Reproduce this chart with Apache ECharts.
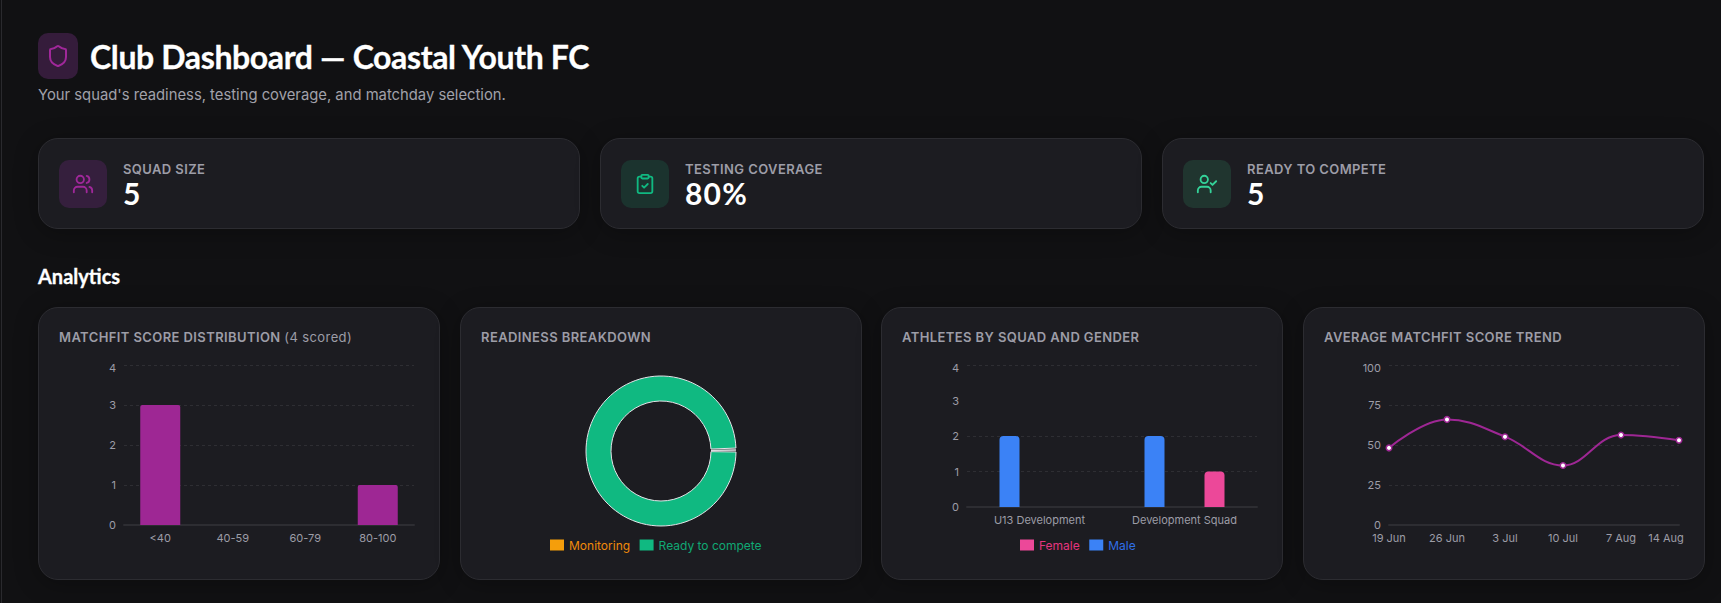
<!DOCTYPE html>
<html><head><meta charset="utf-8">
<script src="https://cdn.jsdelivr.net/npm/echarts@6/dist/echarts.min.js"></script>
<style>
html,body{margin:0;padding:0;background:#111113;width:1721px;height:603px;overflow:hidden;font-family:Inter,sans-serif}
.a{position:absolute;white-space:nowrap}
.rule{left:1px;top:0;width:1px;height:603px;background:#2a2a2e}
.head{font-family:Lato,sans-serif;font-weight:700;color:#fff;-webkit-text-stroke:.3px #fff}
.card{position:absolute;box-sizing:border-box;background:#1c1c21;border:1px solid #2c2c31;box-shadow:0 4px 24px rgba(0,0,0,.28)}
.stat{top:138px;height:91px;width:542px;border-radius:20px}
.chartcard{top:307px;height:273px;width:402px;border-radius:20px}
.ib{position:absolute;border-radius:10px;display:flex;align-items:center;justify-content:center}
.ctitle{font-size:13px;font-weight:600;letter-spacing:.4px;color:#9d9da7;line-height:16px}
.ctitle span{font-weight:400;letter-spacing:.4px}
.lab{font-size:13px;font-weight:600;letter-spacing:.4px;color:#9d9da7;line-height:14px}
.val{font-family:Lato,sans-serif;font-size:30px;font-weight:700;color:#fff;line-height:32px;letter-spacing:1.2px}
.chart{position:absolute;top:307px;height:273px;width:402px}
svg.i{fill:none;stroke-width:2;stroke-linecap:round;stroke-linejoin:round}
</style></head><body>
<div class="a rule"></div>

<div class="ib" style="left:38px;top:33px;width:40px;height:46px;background:#351c3b">
<svg class="i" width="24" height="24" viewBox="0 0 24 24" stroke="#a0289a"><path d="M20 13c0 5-3.5 7.5-7.66 8.95a1 1 0 0 1-.67-.01C7.5 20.5 4 18 4 13V6a1 1 0 0 1 1-1c2 0 4.5-1.2 6.24-2.72a1.17 1.17 0 0 1 1.52 0C14.51 3.81 17 5 19 5a1 1 0 0 1 1 1z"/></svg></div>
<div class="a head" style="left:90px;top:37px;font-size:32px;line-height:40px;letter-spacing:-.37px">Club Dashboard — Coastal Youth FC</div>
<div class="a" style="left:38px;top:86px;font-size:14.8px;line-height:18px;color:#a1a1aa">Your squad's readiness, testing coverage, and matchday selection.</div>

<div class="card stat" style="left:38px"></div>
<div class="card stat" style="left:600px"></div>
<div class="card stat" style="left:1162px"></div>
<div class="ib" style="left:59px;top:160px;width:48px;height:48px;background:#351f3d">
<svg class="i" width="22" height="22" viewBox="0 0 24 24" stroke="#a0289a"><path d="M16 21v-2a4 4 0 0 0-4-4H6a4 4 0 0 0-4 4v2"/><circle cx="9" cy="7" r="4"/><path d="M22 21v-2a4 4 0 0 0-3-3.87"/><path d="M16 3.13a4 4 0 0 1 0 7.75"/></svg></div>
<div class="ib" style="left:621px;top:160px;width:48px;height:48px;background:#1b332e">
<svg class="i" width="22" height="22" viewBox="0 0 24 24" stroke="#10b981"><rect x="8" y="2" width="8" height="4" rx="1"/><path d="M16 4h2a2 2 0 0 1 2 2v14a2 2 0 0 1-2 2H6a2 2 0 0 1-2-2V6a2 2 0 0 1 2-2h2"/><path d="m9 14 2 2 4-4"/></svg></div>
<div class="ib" style="left:1183px;top:160px;width:48px;height:48px;background:#20352f">
<svg class="i" width="22" height="22" viewBox="0 0 24 24" stroke="#34d399"><path d="M16 21v-2a4 4 0 0 0-4-4H6a4 4 0 0 0-4 4v2"/><circle cx="9" cy="7" r="4"/><path d="m16 11 2 2 4-4"/></svg></div>
<div class="a lab" style="left:123px;top:162px">SQUAD SIZE</div>
<div class="a val" style="left:123px;top:177px">5</div>
<div class="a lab" style="left:685px;top:162px">TESTING COVERAGE</div>
<div class="a val" style="left:685px;top:177px">80%</div>
<div class="a lab" style="left:1247px;top:162px">READY TO COMPETE</div>
<div class="a val" style="left:1247px;top:177px">5</div>

<div class="a head" style="left:38px;top:264px;font-size:20px;line-height:24px">Analytics</div>

<div class="card chartcard" style="left:38px"></div>
<div class="card chartcard" style="left:460px"></div>
<div class="card chartcard" style="left:881px"></div>
<div class="card chartcard" style="left:1303px"></div>
<div class="chart" id="c1" style="left:38px"></div>
<div class="chart" id="c2" style="left:460px"></div>
<div class="chart" id="c3" style="left:881px"></div>
<div class="chart" id="c4" style="left:1303px"></div>
<div class="a ctitle" style="left:59px;top:329px">MATCHFIT SCORE DISTRIBUTION <span>(4 scored)</span></div>
<div class="a ctitle" style="left:481px;top:329px">READINESS BREAKDOWN</div>
<div class="a ctitle" style="left:902px;top:329px">ATHLETES BY SQUAD AND GENDER</div>
<div class="a ctitle" style="left:1324px;top:329px">AVERAGE MATCHFIT SCORE TREND</div>

<script>
const scoreBands = ['<40', '40-59', '60-79', '80-100'];
const scoreCounts = [3, 0, 0, 1];
const readinessNames = ['Monitoring', 'Ready to compete'];
const readinessValues = [0, 5];
const squads = ['U13 Development', 'Development Squad'];
const maleCounts = [2, 2];
const femaleCounts = [0, 1];
const trendDates = ['19 Jun', '26 Jun', '3 Jul', '10 Jul', '7 Aug', '14 Aug'];
const trendScores = [48.2, 66, 55.2, 37.2, 56.3, 53];

const PURPLE = '#9e2794', GREEN = '#10b981', AMBER = '#f59e0b', BLUE = '#3b82f6', PINK = '#ec4899';
const TICK = '#9d9da7', GRID = '#2e2e33', AXIS = '#2d2d32', FONT = 'Inter';

function yAxis(max, interval, gridColor) {
  return {
    type: 'value', min: 0, max, interval,
    axisLine: {show: false}, axisTick: {show: false},
    splitLine: {show: true, showMinLine: false, lineStyle: {color: gridColor || GRID, type: [3, 3], width: 1}},
    axisLabel: {
      margin: 8, color: TICK, fontFamily: FONT, fontSize: 11,
      formatter: v => v === max ? '{top|' + v + '}' : String(v),
      rich: {top: {padding: [6, 0, 0, 0], color: TICK, fontFamily: FONT, fontSize: 11}}
    }
  };
}
function xAxis(data, extra) {
  return Object.assign({
    type: 'category', data,
    axisLine: {show: true, lineStyle: {color: AXIS, width: 2}}, axisTick: {show: false},
    axisLabel: {interval: 0, margin: 7, color: TICK, fontFamily: FONT, fontSize: 11}
  }, extra || {});
}
function legend(left, names, colors) {
  return {
    left, top: 232, itemWidth: 14, itemHeight: 11, itemGap: 9.5, icon: 'rect',
    data: names.map((name, i) => ({name, textStyle: {color: colors[i]}})),
    selectedMode: false, padding: 0,
    itemStyle: {borderWidth: 0},
    textStyle: {fontFamily: FONT, fontSize: 12}
  };
}
const opts = {renderer: 'svg'};

echarts.init(document.getElementById('c1'), null, opts).setOption({
  animation: false,
  grid: {left: 86, top: 58, width: 290, height: 160},
  xAxis: xAxis(scoreBands), yAxis: yAxis(4, 1),
  series: [{type: 'bar', data: scoreCounts, barWidth: 40, itemStyle: {color: PURPLE, borderRadius: [2, 2, 0, 0]}}]
});

echarts.init(document.getElementById('c2'), null, opts).setOption({
  animation: false,
  color: [AMBER, GREEN],
  legend: legend(90, readinessNames, ['#f08a0a', '#10a874']),
  series: [{
    type: 'pie', center: [201, 144], radius: [50, 75], startAngle: 0, clockwise: false, padAngle: 1.5,
    label: {show: false}, labelLine: {show: false}, silent: true,
    itemStyle: {borderColor: '#e4e4e8', borderWidth: 1},
    data: readinessNames.map((name, i) => ({name, value: readinessValues[i]}))
  }]
});

echarts.init(document.getElementById('c3'), null, opts).setOption({
  animation: false,
  legend: legend(139, ['Female', 'Male'], ['#e5357f', '#2f6fe8']),
  grid: {left: 86, top: 58, width: 290, height: 142},
  xAxis: xAxis(squads), yAxis: yAxis(4, 1, [GRID, GRID, 'transparent', GRID]),
  series: [
    {name: 'Male', type: 'bar', data: maleCounts, barWidth: 20, barGap: '200%', itemStyle: {color: BLUE, borderRadius: [4, 4, 0, 0]}},
    {name: 'Female', type: 'bar', data: femaleCounts, barWidth: 20, itemStyle: {color: PINK, borderRadius: [4, 4, 0, 0]}}
  ]
});

const lastDate = trendDates[trendDates.length - 1];
echarts.init(document.getElementById('c4'), null, opts).setOption({
  animation: false,
  grid: {left: 86, top: 58, width: 290, height: 160},
  xAxis: xAxis(trendDates, {
    boundaryGap: false,
    axisLabel: {
      interval: 0, margin: 7, color: TICK, fontFamily: FONT, fontSize: 11,
      formatter: v => v === lastDate ? '{end|' + v + '}' : v,
      rich: {end: {padding: [0, 26, 0, 0], color: TICK, fontFamily: FONT, fontSize: 11}}
    }
  }),
  yAxis: yAxis(100, 25),
  series: [{
    type: 'line', data: trendScores, smooth: 0.4, symbol: 'circle', symbolSize: 5.5,
    lineStyle: {color: PURPLE, width: 2},
    itemStyle: {color: '#fff', borderColor: PURPLE, borderWidth: 1.5}
  }]
});
</script>
</body></html>
